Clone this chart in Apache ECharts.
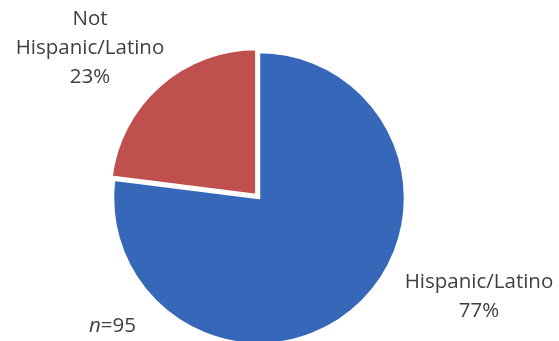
<!DOCTYPE html>
<html><head><meta charset="utf-8">
<script src="https://cdn.jsdelivr.net/npm/echarts@6/dist/echarts.min.js"></script>
<style>html,body{margin:0;padding:0;background:#fff}#c{width:559px;height:341px}</style>
</head><body><div id="c"></div>
<script>
const categories = ['Hispanic/Latino', 'Not\nHispanic/Latino'];
const values = [77, 23];
const sampleSize = 95;
const colors = ['#3767B9', '#C0504D'];

const labelPos = [
  {x: 479, y: 297},
  {x: 90, y: 48}
];
const font = {fontSize: 20.5, fill: '#404040', fontFamily: 'Open Sans'};
const chart = echarts.init(document.getElementById('c'), null, {renderer: 'canvas'});
chart.setOption({
  animation: false,
  textStyle: {fontFamily: 'Open Sans'},
  series: [{
    type: 'pie',
    center: [259, 198],
    radius: 146,
    startAngle: 90,
    clockwise: true,
    selectedMode: 'single',
    selectedOffset: 4,
    data: categories.map((c, i) => ({
      name: c, value: values[i], selected: i === 1,
      itemStyle: {color: colors[i]}
    })),
    itemStyle: {borderColor: '#fff', borderWidth: 2.5},
    label: {show: false},
    labelLine: {show: false},
    emphasis: {disabled: true}
  }],
  graphic: categories.map((c, i) => ({
    type: 'text', x: labelPos[i].x, y: labelPos[i].y,
    style: Object.assign({
      text: c + '\n' + values[i] + '%',
      align: 'center', verticalAlign: 'middle', lineHeight: 29
    }, font)
  })).concat([{
    type: 'text', x: 89, y: 326,
    style: Object.assign({
      text: '{i|n}=' + sampleSize,
      rich: {i: Object.assign({fontStyle: 'italic'}, font)},
      verticalAlign: 'middle', align: 'left'
    }, font)
  }])
});
</script></body></html>
